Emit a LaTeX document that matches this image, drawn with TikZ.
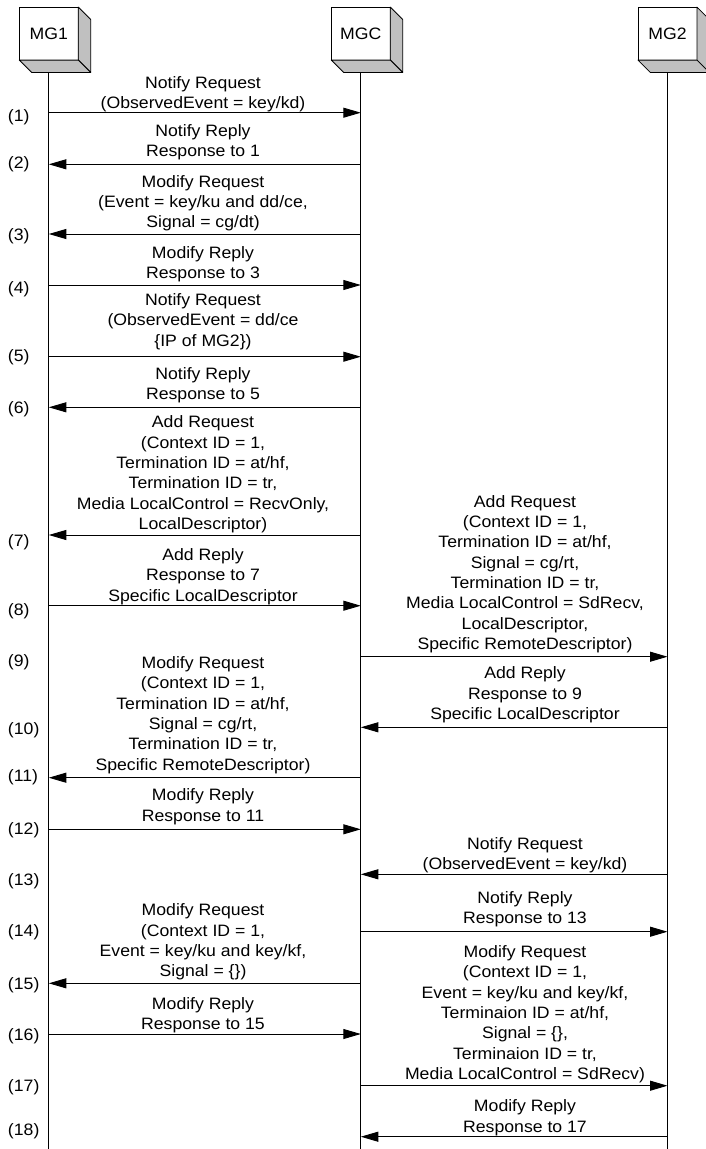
\documentclass[tikz,border=0pt]{standalone}
\usepackage{fontspec}
\setmainfont{Liberation Sans}[FakeStretch=1.07]
\usetikzlibrary{arrows.meta}
\definecolor{facegray}{RGB}{192,192,192}
% stacked message lines; the baseline is that of the last line
\newcommand\msglines[1]{\begin{tabular}[b]{@{}c@{}}#1\end{tabular}}

\begin{document}
\begin{tikzpicture}[x=1pt,y=-1pt,
  lbl/.style={font=\fontsize{16.5}{20.3}\selectfont, inner sep=0pt, outer sep=0pt},
  msgtext/.style={lbl, anchor=base},
  stepno/.style={lbl, anchor=base west},
  entity/.style={lbl, draw, line width=0.8pt, fill=white, minimum width=59pt, minimum height=53pt},
  face/.style={draw, line width=0.8pt, fill=facegray, line join=round},
  lifeline/.style={line width=0.9pt},
  msg/.style={line width=0.9pt, -{Triangle[length=17.5pt,width=10pt]}}
]
\useasboundingbox (0,0) rectangle (705,1149);

% entities drawn as boxes with a shaded side and bottom
\node[entity] (mg1) at (48.8,33.6) {MG1};
\node[entity] (mgc) at (360.8,33.6) {MGC};
\node[entity] (mg2) at (667.5,33.6) {MG2};
\foreach \u in {mg1,mgc,mg2}{
  \draw[face] (\u.north east) -- ++(12.4,12.4) -- ++(0,53) -- (\u.south east) -- cycle;
  \draw[face] (\u.south west) -- (\u.south east) -- ++(12.4,12.4) -- ++(-59,0) -- cycle;
}

% lifelines
\coordinate (bottom) at (0,1149);
\foreach \u in {mg1,mgc,mg2}
  \draw[lifeline] ([yshift=-12.4pt]\u.south) -- (\u |- bottom);

% messages
\foreach \n/\y/\a/\b in {
  1/112.7/mg1/mgc, 2/164.3/mgc/mg1, 3/234/mgc/mg1, 4/285/mg1/mgc,
  5/356.7/mg1/mgc, 6/407.3/mgc/mg1, 7/535/mgc/mg1, 8/605.7/mg1/mgc,
  9/656.7/mgc/mg2, 10/727.3/mg2/mgc, 11/777.7/mgc/mg1, 12/829.3/mg1/mgc,
  13/874.3/mg2/mgc, 14/931.7/mgc/mg2, 15/983.3/mgc/mg1, 16/1034/mg1/mgc,
  17/1085.7/mgc/mg2, 18/1136.7/mg2/mgc}{
  \coordinate (s\n) at (0,\y);
  \draw[msg] (\a |- s\n) -- (\b |- s\n);
}

% step numbers
\foreach \n/\y in {1/121.7, 2/168.3, 3/240, 4/293.3, 5/361, 6/413.3,
  7/546.7, 8/615, 9/666.7, 10/734.3, 11/781.7, 12/834.3, 13/885.7,
  14/936.7, 15/989, 16/1040, 17/1091.7, 18/1135}
  \node[stepno] (n\n) at (8,\y) {(\n)};

% message texts
\node[msgtext] (t1) at (203,108.7) {\msglines{Notify Request\\(ObservedEvent = key/kd)}};
\node[msgtext] (t2) at (203,156.7) {\msglines{Notify Reply\\Response to 1}};
\node[msgtext] (t3) at (203,227.7) {\msglines{Modify Request\\(Event = key/ku and dd/ce,\\Signal = cg/dt)}};
\node[msgtext] (t4) at (203,278.7) {\msglines{Modify Reply\\Response to 3}};
\node[msgtext] (t5) at (203,346) {\msglines{Notify Request\\(ObservedEvent = dd/ce\\\{IP of MG2\})}};
\node[msgtext] (t6) at (203,399.3) {\msglines{Notify Reply\\Response to 5}};
\node[msgtext] (t7) at (203,529.3) {\msglines{Add Request\\(Context ID = 1,\\Termination ID = at/hf,\\Termination ID = tr,\\Media LocalControl = RecvOnly,\\LocalDescriptor)}};
\node[msgtext] (t8) at (203,601) {\msglines{Add Reply\\Response to 7\\Specific LocalDescriptor}};
\node[msgtext] (t9) at (525,649.3) {\msglines{Add Request\\(Context ID = 1,\\Termination ID = at/hf,\\Signal = cg/rt,\\Termination ID = tr,\\Media LocalControl = SdRecv,\\LocalDescriptor,\\Specific RemoteDescriptor)}};
\node[msgtext] (t10) at (525,719.3) {\msglines{Add Reply\\Response to 9\\Specific LocalDescriptor}};
\node[msgtext] (t11) at (203,770) {\msglines{Modify Request\\(Context ID = 1,\\Termination ID = at/hf,\\Signal = cg/rt,\\Termination ID = tr,\\Specific RemoteDescriptor)}};
\node[msgtext] (t12) at (203,821) {\msglines{Modify Reply\\Response to 11}};
\node[msgtext] (t13) at (525,869.3) {\msglines{Notify Request\\(ObservedEvent = key/kd)}};
\node[msgtext] (t14) at (525,923.3) {\msglines{Notify Reply\\Response to 13}};
\node[msgtext] (t15) at (203,976.7) {\msglines{Modify Request\\(Context ID = 1,\\Event = key/ku and key/kf,\\Signal = \{\})}};
\node[msgtext] (t16) at (203,1029.3) {\msglines{Modify Reply\\Response to 15}};
\node[msgtext] (t17) at (525,1079.3) {\msglines{Modify Request\\(Context ID = 1,\\Event = key/ku and key/kf,\\Terminaion ID = at/hf,\\Signal = \{\},\\Terminaion ID = tr,\\Media LocalControl = SdRecv)}};
\node[msgtext] (t18) at (525,1132) {\msglines{Modify Reply\\Response to 17}};
\end{tikzpicture}
\end{document}
